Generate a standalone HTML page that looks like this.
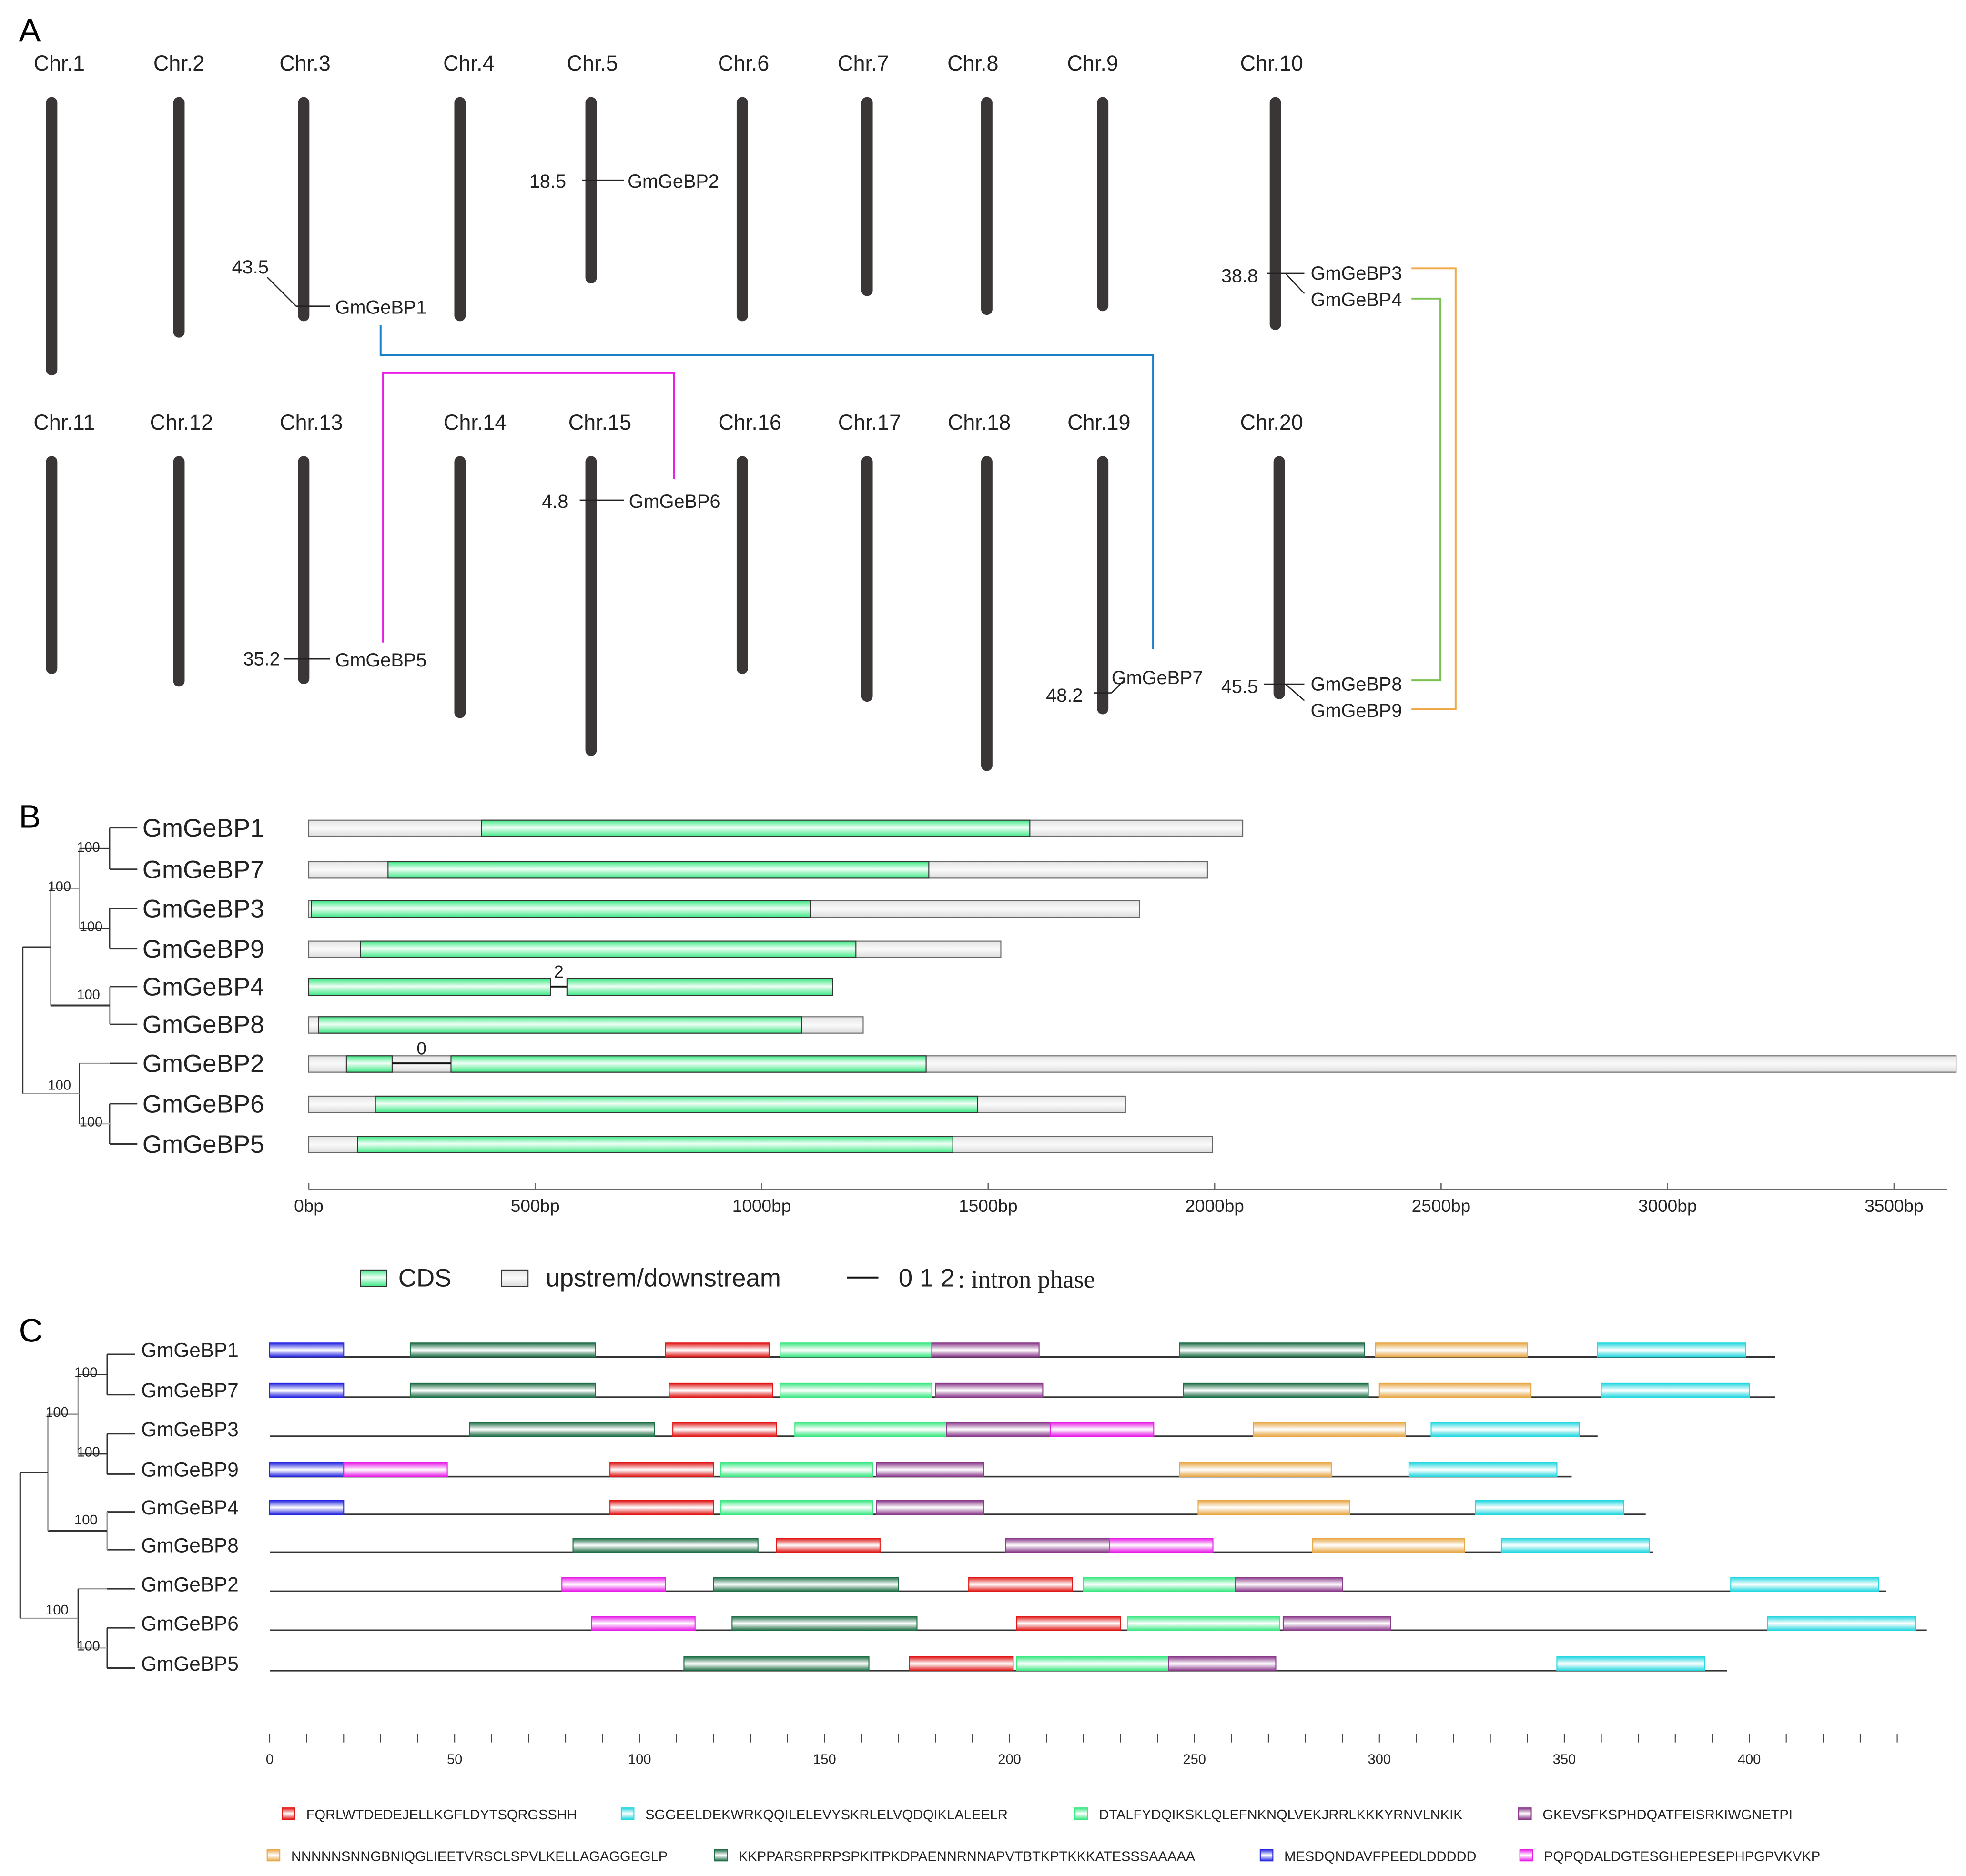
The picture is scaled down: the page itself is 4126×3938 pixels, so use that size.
<!DOCTYPE html>
<html><head><meta charset="utf-8">
<style>
html,body{margin:0;padding:0;background:#fff;}
svg{display:block;font-family:"Liberation Sans",sans-serif;}
</style></head>
<body>
<svg id="fig" xmlns="http://www.w3.org/2000/svg" width="4126" height="3938" viewBox="0 0 1560 1489" preserveAspectRatio="none">
<defs>
<linearGradient id="gGreen" x1="0" y1="0" x2="0" y2="1"><stop offset="0" stop-color="#3de884"/><stop offset="0.45" stop-color="#f0fff6"/><stop offset="1" stop-color="#3de884"/></linearGradient>
<linearGradient id="gGray" x1="0" y1="0" x2="0" y2="1"><stop offset="0" stop-color="#e4e4e4"/><stop offset="0.5" stop-color="#fafafa"/><stop offset="1" stop-color="#dcdcdc"/></linearGradient>
</defs>
<g id="panelA"></g>
<g id="panelB"></g>
<g id="panelC"></g>
</svg>
<script>
// ---------- Panel A data ----------
const chrNames = ["Chr.1","Chr.2","Chr.3","Chr.4","Chr.5","Chr.6","Chr.7","Chr.8","Chr.9","Chr.10","Chr.11","Chr.12","Chr.13","Chr.14","Chr.15","Chr.16","Chr.17","Chr.18","Chr.19","Chr.20"];
const chrLengths = [221,191,178,178,148,178,158,173,170,185,173,183,181,208,238,173,195,250,205,193];
// ---------- Panel B data ----------
const geneNamesB = ["GmGeBP1","GmGeBP7","GmGeBP3","GmGeBP9","GmGeBP4","GmGeBP8","GmGeBP2","GmGeBP6","GmGeBP5"];
const geneTotalBp = [2062,1984,1834,1528,0,1224,3637,1803,1995];
const cdsStartBp = [381,175,6,114,0,22,83,147,108];
const cdsEndBp = [1592,1369,1107,1208,534,1088,184,1477,1422];
const cds2StartBp = [null,null,null,null,570,null,314,null,null];
const cds2EndBp = [null,null,null,null,1157,null,1363,null,null];
const intronPhase = [null,null,null,null,"2",null,"0",null,null];
const bpTicks = [0,500,1000,1500,2000,2500,3000,3500];
// ---------- Panel C data ----------
const geneNamesC = ["GmGeBP1","GmGeBP7","GmGeBP3","GmGeBP9","GmGeBP4","GmGeBP8","GmGeBP2","GmGeBP6","GmGeBP5"];
const proteinLen = [407,407,359,352,372,374,437,448,394];
const motifTypes = [
 ["m7","m6","m1","m3","m4","m6","m5","m2"],
 ["m7","m6","m1","m3","m4","m6","m5","m2"],
 ["m6","m1","m3","m4","m8","m5","m2"],
 ["m7","m8","m1","m3","m4","m5","m2"],
 ["m7","m1","m3","m4","m5","m2"],
 ["m6","m1","m4","m8","m5","m2"],
 ["m8","m6","m1","m3","m4","m2"],
 ["m8","m6","m1","m3","m4","m2"],
 ["m6","m1","m3","m4","m2"]];
const motifStarts = [
 [0,38,107,138,179,246,299,359],
 [0,38,108,138,180,247,300,360],
 [54,109,142,183,211,266,314],
 [0,20,92,122,164,246,308],
 [0,92,122,164,251,326],
 [82,137,199,227,282,333],
 [79,120,189,220,261,395],
 [87,125,202,232,274,405],
 [112,173,202,243,348]];
const motifLenAA = {m1:28,m2:40,m3:41,m4:29,m5:41,m6:50,m7:20,m8:28};
const aaTicks = [0,50,100,150,200,250,300,350,400];
const motifSeqs = {
 m1:"FQRLWTDEDEJELLKGFLDYTSQRGSSHH",
 m2:"SGGEELDEKWRKQQILELEVYSKRLELVQDQIKLALEELR",
 m3:"DTALFYDQIKSKLQLEFNKNQLVEKJRRLKKKYRNVLNKIK",
 m4:"GKEVSFKSPHDQATFEISRKIWGNETPI",
 m5:"NNNNNSNNGBNIQGLIEETVRSCLSPVLKELLAGAGGEGLP",
 m6:"KKPPARSRPRPSPKITPKDPAENNRNNAPVTBTKPTKKKATESSSAAAAA",
 m7:"MESDQNDAVFPEEDLDDDDD",
 m8:"PQPQDALDGTESGHEPESEPHPGPVKVKP"};

const NS="http://www.w3.org/2000/svg";
function mk(tag,attrs,parent,text){const e=document.createElementNS(NS,tag);for(const k in attrs)e.setAttribute(k,attrs[k]);if(text!==undefined)e.textContent=text;parent.appendChild(e);return e;}
const motifColor={m1:"#e01818",m2:"#25d8e0",m3:"#3de884",m4:"#8a3a8a",m5:"#e8a848",m6:"#1e6e46",m7:"#2828e0",m8:"#e81ee8"};
const defs=document.querySelector("defs");
for(const m in motifColor){const g=mk("linearGradient",{id:"g"+m,x1:0,y1:0,x2:0,y2:1},defs);mk("stop",{offset:0,"stop-color":motifColor[m]},g);mk("stop",{offset:0.5,"stop-color":"#ffffff"},g);mk("stop",{offset:1,"stop-color":motifColor[m]},g);}

// ---------- Panel A ----------
const A=document.getElementById("panelA");
let t=mk("text",{x:15,y:33,"font-size":26},A,"A");

const chrX=[41,142,241,365,469,589,688,783,875,1012,41,142,241,365,469,589,688,783,875,1015];
const chrLabelX=[47,142,242,372,470,590,685,772,867,1009,51,144,247,377,476,595,690,777,872,1009];
chrNames.forEach((n,i)=>{
  const top=i<10?77:362, ly=i<10?56:341;
  const lab=mk("text",{x:chrLabelX[i],y:ly,"font-size":17,"text-anchor":"middle",fill:"#222"},A,n);
  
  
  const r=mk("rect",{x:chrX[i]-4.5,y:top,width:9,height:chrLengths[i],rx:4.5,fill:"#3a3636"},A);
  
  
});
function ln(p,x1,y1,x2,y2,c,w){return mk("line",{x1,y1,x2,y2,stroke:c||"#222","stroke-width":w||1},p);}
function tx(p,x,y,s,fs,anchor){return mk("text",{x,y,"font-size":fs||15,"text-anchor":anchor||"start",fill:"#222"},p,s);}
// gene markers
const gm=[
 {pos:"18.5",px:420,py:149,lines:[[462,143,495,143]],genes:[["GmGeBP2",498,149]]},
 {pos:"43.5",px:184,py:217,lines:[[212,220,235,243],[235,243,262,243]],genes:[["GmGeBP1",266,249]]},
 {pos:"38.8",px:969,py:224,lines:[[1005,217,1035,217],[1020,217,1035,233]],genes:[["GmGeBP3",1040,222],["GmGeBP4",1040,243]]},
 {pos:"4.8",px:430,py:403,lines:[[460,397,495,397]],genes:[["GmGeBP6",499,403]]},
 {pos:"35.2",px:193,py:528,lines:[[225,523,262,523]],genes:[["GmGeBP5",266,529]]},
 {pos:"48.2",px:830,py:557,lines:[[868,550,882,550],[882,550,892,540]],genes:[["GmGeBP7",882,543]]},
 {pos:"45.5",px:969,py:550,lines:[[1003,543,1035,543],[1020,543,1035,556]],genes:[["GmGeBP8",1040,548],["GmGeBP9",1040,569]]}];
gm.forEach(g=>{
  const p=tx(A,g.px,g.py,g.pos,15);
  g.lines.forEach(l=>ln(A,l[0],l[1],l[2],l[3],"#222",1));
  g.genes.forEach(q=>{const e=tx(A,q[1],q[2],q[0],15);});
});
function poly(p,pts,c,name){const e=mk("polyline",{points:pts,fill:"none",stroke:c,"stroke-width":1.5},p);}
poly(A,"302,258 302,282 915,282 915,515","#1a7fc4","duplication-link-1-7");
poly(A,"304,510 304,296 535,296 535,380","#e81ee8","duplication-link-5-6");
poly(A,"1120,213 1155,213 1155,563 1120,563","#f0a848","duplication-link-3-9");
poly(A,"1120,237 1143,237 1143,540 1120,540","#7cc050","duplication-link-4-8");

// ---------- Panel B ----------
const B=document.getElementById("panelB");
t=mk("text",{x:15,y:657,"font-size":26},B,"B");
const rowB=[657,690,721,753,783,813,844,876,908];
const bx=bp=>245+bp*0.3594;
function tree(p,rows,xL,xM,xR,fs,labs){
  // leaf lines
  rows.forEach(y=>ln(p,xR-22,y,xR,y,"#333",1.2));
  ln(p,xR-22,rows[0],xR-22,rows[1],"#333");ln(p,xR-22,rows[2],xR-22,rows[3],"#333");
  const a=(rows[0]+rows[1])/2,b=(rows[2]+rows[3])/2;
  ln(p,xM,a,xR-22,a,"#333");ln(p,xM,b,xR-22,b,"#333");ln(p,xM,a,xM,b,"#999");
  const ab=(a+b)/2;ln(p,xL+22,ab,xM,ab,"#999");
  ln(p,xR-22,rows[4],xR-22,rows[5],"#999");const c=(rows[4]+rows[5])/2;
  ln(p,xL+22,c,xR-22,c,"#333",1.5);ln(p,xL+22,ab,xL+22,c,"#999");
  const root1=(ab+c)/2;
  ln(p,xR-22,rows[7],xR-22,rows[8],"#333");const d=(rows[7]+rows[8])/2;
  ln(p,xM,d,xR-22,d,"#bbb");ln(p,xM,rows[6],xR-22,rows[6],"#999");ln(p,xM,rows[6],xM,d,"#333");
  const e=(rows[6]+d)/2;ln(p,xL,e,xM,e,"#999");
  ln(p,xL,root1,xL+22,root1,"#333");ln(p,xL,root1,xL,e,"#333",1.2);
  [[xR-48,a+(rows[1]-rows[0])/2-14,],[xL+20,ab+2],[xR-46,b+(rows[3]-rows[2])/2-14],[xR-48,c-5],[xL+20,e-3],[xR-46,d+2]].forEach(q=>{
    const s=mk("text",{x:q[0],y:q[1],"font-size":fs,fill:"#222"},p,"100");});
}
tree(B,rowB,18,63,109,11);
geneNamesB.forEach((n,i)=>{
  const y=rowB[i];
  const g=mk("g",{},B);
  const nm=tx(g,113,y+7,n,20);
  if(geneTotalBp[i]>0){const r=mk("rect",{x:bx(0),y:y-6,width:bx(geneTotalBp[i])-bx(0),height:13,fill:"url(#gGray)",stroke:"#666","stroke-width":0.8},g);}
  const c=mk("rect",{x:bx(cdsStartBp[i]),y:y-6,width:bx(cdsEndBp[i])-bx(cdsStartBp[i]),height:13,fill:"url(#gGreen)",stroke:"#333","stroke-width":0.8},g);
  if(cds2StartBp[i]!==null){
    const c2=mk("rect",{x:bx(cds2StartBp[i]),y:y-6,width:bx(cds2EndBp[i])-bx(cds2StartBp[i]),height:13,fill:"url(#gGreen)",stroke:"#333","stroke-width":0.8},g);
    ln(g,bx(cdsEndBp[i]),y,bx(cds2StartBp[i]),y,"#111",1.5);
    const ph=tx(g,(bx(cdsEndBp[i])+bx(cds2StartBp[i]))/2,y-7,intronPhase[i],14,"middle");
  }
});
ln(B,245,944,1545,944,"#666",1);
bpTicks.forEach(v=>{ln(B,bx(v),944,bx(v),939,"#666");const s=tx(B,bx(v),962,v+"bp",14,"middle");});
const lgB=mk("g",{},B);
mk("rect",{x:286,y:1008,width:21,height:13,fill:"url(#gGreen)",stroke:"#333","stroke-width":0.8},lgB);
tx(lgB,316,1021,"CDS",20);
mk("rect",{x:398,y:1008,width:21,height:13,fill:"url(#gGray)",stroke:"#333","stroke-width":0.8},lgB);
tx(lgB,433,1021,"upstrem/downstream",20);
ln(lgB,672,1014,697,1014,"#111",1.5);
tx(lgB,713,1021,"0 1 2",20);
mk("text",{x:760,y:1022,"font-size":20,"font-family":"Liberation Serif, serif",fill:"#222"},lgB,": intron phase");

// ---------- Panel C ----------
const C=document.getElementById("panelC");
t=mk("text",{x:15,y:1065,"font-size":26},C,"C");
const rowC=[1075,1107,1138,1170,1200,1230,1261,1292,1324];
const ax=aa=>214+aa*2.935;
tree(C,rowC,16,62,107,11);
geneNamesC.forEach((n,i)=>{
  const y=rowC[i]+2;
  const g=mk("g",{},C);
  const nm=tx(g,112,y,n,16);
  ln(g,ax(0),y,ax(proteinLen[i]),y,"#333",1.3);
  motifTypes[i].forEach((m,j)=>{
    const r=mk("rect",{x:ax(motifStarts[i][j]),y:y-11,width:motifLenAA[m]*2.935,height:11,fill:"url(#g"+m+")",stroke:motifColor[m],"stroke-width":0.8},g);
    
    
  });
});
ln(C,ax(0),1380,ax(440),1380,"#fff",0);
for(let v=0;v<=440;v+=10){ln(C,ax(v),1376,ax(v),1383,"#444",0.8);}
aaTicks.forEach(v=>{const s=tx(C,ax(v),1400,String(v),11,"middle");});
const lgC=mk("g",{},C);
const legPos=[["m1",224,1440],["m2",493,1440],["m3",853,1440],["m4",1205,1440],["m5",212,1473],["m6",567,1473],["m7",1000,1473],["m8",1206,1473]];
legPos.forEach(q=>{
  const it=mk("g",{},lgC);
  mk("rect",{x:q[1],y:q[2]-5,width:10,height:9,fill:"url(#g"+q[0]+")",stroke:motifColor[q[0]],"stroke-width":0.8},it);
  tx(it,q[1]+19,q[2]+4,motifSeqs[q[0]],11);
});
</script>
</body></html>
